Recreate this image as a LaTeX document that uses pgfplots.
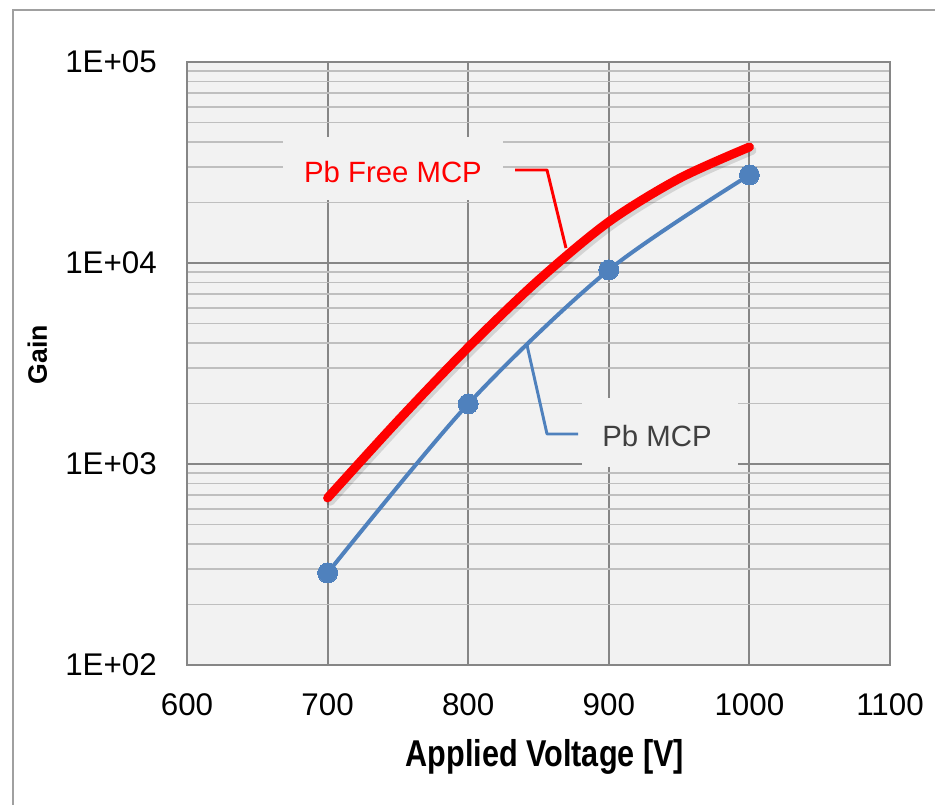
\documentclass[border=0pt]{standalone}
\usepackage{fontspec}
\setmainfont{Liberation Sans}
\newfontfamily\narrowfont[FakeStretch=0.82]{Liberation Sans}
\usepackage{pgfplots}
\pgfplotsset{compat=1.18}
\definecolor{majgrid}{RGB}{134,134,134}
\definecolor{mingrid}{RGB}{191,191,191}
\definecolor{plotbg}{RGB}{242,242,242}
\definecolor{pbblue}{RGB}{79,129,189}
\definecolor{labgray}{RGB}{64,64,64}
\definecolor{frame}{RGB}{160,160,160}
\begin{document}
\begin{tikzpicture}
\useasboundingbox (-140.25pt,-105pt) rectangle (561pt,498.75pt);
\begin{axis}[
  at={(0,0)}, anchor=south west,
  width=527.25pt, height=452.25pt, scale only axis,
  xmin=600, xmax=1100, ymin=100, ymax=100000, ymode=log,
  xtick={600,700,800,900,1000,1100},
  xticklabels={600,700,800,900,1000,1100},
  ytick={100,1000,10000,100000},
  yticklabels={1E+02,1E+03,1E+04,1E+05},
  minor ytick={200,300,400,500,600,700,800,900,2000,3000,4000,5000,6000,7000,8000,9000,20000,30000,40000,50000,60000,70000,80000,90000},
  xmajorgrids, ymajorgrids, yminorgrids,
  major grid style={majgrid, line width=1.4pt},
  minor grid style={mingrid, line width=1.4pt},
  axis line style={majgrid, line width=1.4pt},
  major tick length=0pt, minor tick length=0pt,
  axis background/.style={fill=plotbg},
  xticklabel style={font=\fontsize{23.5}{28}\selectfont, anchor=center, inner sep=0pt, yshift=-29.6pt},
  yticklabel style={font=\fontsize{23.5}{28}\selectfont, anchor=east, inner sep=0pt, xshift=-22.5pt},
  xlabel={Applied Voltage [V]},
  xlabel style={at={(rel axis cs:0.509,-0.153)}, anchor=center, inner sep=0pt, font=\narrowfont\bfseries\fontsize{28}{32}\selectfont},
  clip=false,
]
% shadow of the Pb free curve
\addplot[black, opacity=0.12, line width=6.75pt, smooth, line cap=round, xshift=2pt, yshift=-2.5pt] coordinates {
(700,678) (750,1641) (800,3802) (850,8222) (900,16030) (950,26300) (1000,37760)};
\addplot[red, line width=6.75pt, smooth, line cap=round] coordinates {
(700,678) (750,1641) (800,3802) (850,8222) (900,16030) (950,26300) (1000,37760)};
\addplot[pbblue, line width=3pt, smooth, mark=*, mark size=7.5pt, mark options={fill=pbblue, draw=pbblue, line width=0pt}] coordinates {
(700,287) (800,1990) (900,9230) (1000,27400)};
% y axis title
\node[rotate=90, inner sep=0pt, anchor=center, font=\bfseries\fontsize{20}{24}\selectfont] at (rel axis cs:-0.213,0.515) {Gain};
% data label boxes and leaders
\fill[plotbg] (rel axis cs:0.1366,0.7711) rectangle (rel axis cs:0.4495,0.8756);
\node[red, font=\fontsize{22}{26}\selectfont, anchor=center] at (rel axis cs:0.293,0.8176) {Pb Free MCP};
\draw[red, line width=2.2pt, line join=round] (rel axis cs:0.4666,0.8209) -- (rel axis cs:0.5121,0.8209) -- (rel axis cs:0.5391,0.6915);
\fill[plotbg] (rel axis cs:0.5619,0.3284) rectangle (rel axis cs:0.7838,0.4428);
\node[labgray, font=\fontsize{22}{26}\selectfont, anchor=center] at (rel axis cs:0.6686,0.3798) {Pb MCP};
\draw[pbblue, line width=2.2pt, line join=round] (rel axis cs:0.5562,0.3831) -- (rel axis cs:0.5121,0.3831) -- (rel axis cs:0.4836,0.5307);
\end{axis}
\draw[frame, line width=1.5pt] (-130.5pt,-130pt) rectangle (600pt,491.25pt);
\end{tikzpicture}
\end{document}
